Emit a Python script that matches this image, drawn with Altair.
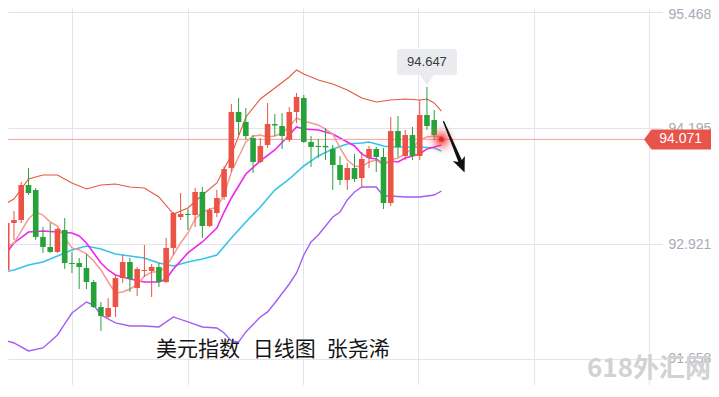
import altair as alt
import pandas as pd
import numpy as np

# ---------------- data ----------------
candle_open = [92.581, 92.636, 93.152, 93.185, 93.570, 93.515, 92.999, 92.889, 92.834, 93.075,
               92.713, 92.713, 92.658, 92.504, 92.229, 92.120, 92.229, 92.548, 92.724, 92.438,
               92.625, 92.625, 92.669, 92.504, 92.878, 93.218, 93.251, 93.240, 93.493, 93.119,
               93.262, 93.438, 93.757, 94.372, 94.262, 94.086, 93.823, 94.010, 94.240, 94.218,
               94.065, 94.372, 94.526, 94.043, 93.999, 93.999, 93.966, 93.790, 93.625, 93.757,
               93.647, 93.867, 93.966, 93.878, 93.372, 94.163, 93.889, 94.119, 93.889, 94.339,
               94.284, 94.060]
candle_high = [92.680, 93.185, 93.284, 93.603, 93.757, 93.537, 93.108, 93.152, 93.097, 93.207,
               92.834, 92.768, 92.812, 92.526, 92.284, 92.328, 92.592, 92.801, 92.768, 92.669,
               92.911, 92.702, 92.713, 92.988, 93.273, 93.482, 93.306, 93.537, 93.548, 93.317,
               93.515, 93.779, 94.460, 94.526, 94.416, 94.119, 94.086, 94.471, 94.350, 94.361,
               94.427, 94.581, 94.559, 94.108, 94.076, 94.196, 94.010, 93.889, 93.812, 93.911,
               93.933, 93.999, 93.988, 93.977, 94.317, 94.328, 94.174, 94.207, 94.504, 94.647,
               94.394, 94.076]
candle_low = [92.548, 92.614, 92.966, 93.152, 93.460, 92.966, 92.823, 92.823, 92.823, 92.647,
              92.603, 92.427, 92.427, 92.218, 91.966, 92.109, 92.120, 92.493, 92.394, 92.350,
              92.559, 92.339, 92.449, 92.493, 92.801, 93.185, 93.075, 93.108, 92.988, 93.108,
              93.218, 93.405, 93.713, 94.119, 94.065, 93.702, 93.812, 93.977, 94.108, 93.966,
              94.043, 94.251, 94.032, 93.768, 93.867, 93.845, 93.515, 93.570, 93.515, 93.603,
              93.537, 93.757, 93.713, 93.306, 93.339, 93.878, 93.845, 93.845, 93.845, 94.174,
              94.065, 94.054]
candle_close = [92.647, 93.152, 93.185, 93.570, 93.482, 92.999, 92.889, 92.834, 93.086, 92.713,
                92.702, 92.669, 92.504, 92.229, 92.131, 92.218, 92.548, 92.724, 92.537, 92.647,
                92.636, 92.669, 92.504, 92.878, 93.262, 93.251, 93.240, 93.493, 93.119, 93.295,
                93.427, 93.746, 94.372, 94.262, 94.108, 93.823, 93.999, 94.240, 94.224, 94.108,
                94.372, 94.537, 94.043, 93.988, 93.988, 93.983, 93.790, 93.625, 93.757, 93.636,
                93.856, 93.966, 93.878, 93.372, 94.163, 93.988, 94.119, 93.889, 94.339, 94.218,
                94.119, 94.071]

upper_i = [0, 2, 4, 6, 8, 10, 12, 14, 16, 18, 20, 22, 24, 26, 28, 30, 32, 34, 36, 38, 40, 41, 42,
           44, 46, 48, 50, 52, 54, 56, 58, 59, 60, 61]
upper_v = [93.328, 93.416, 93.636, 93.680, 93.680, 93.592, 93.526, 93.570, 93.581, 93.548, 93.537,
           93.438, 93.251, 93.317, 93.460, 93.592, 93.900, 94.317, 94.515, 94.636, 94.757, 94.834,
           94.790, 94.724, 94.680, 94.614, 94.526, 94.482, 94.504, 94.515, 94.504, 94.515, 94.471,
           94.383]

lower_i = [0, 2, 4, 6, 8, 9, 10, 12, 13, 14, 16, 18, 20, 22, 24, 26, 28, 30, 31, 32, 33, 34, 36,
           37, 38, 40, 41, 42, 43, 44, 46, 47, 48, 49, 50, 52, 53, 54, 56, 58, 60, 61]
lower_v = [91.878, 91.834, 91.746, 91.779, 91.922, 92.043, 92.163, 92.284, 92.251, 92.141, 92.054,
           92.021, 92.021, 92.010, 92.120, 92.065, 92.010, 91.999, 91.944, 91.856, 91.845, 91.955,
           92.120, 92.175, 92.273, 92.482, 92.603, 92.801, 92.944, 93.020, 93.218, 93.273, 93.405,
           93.493, 93.548, 93.548, 93.449, 93.449, 93.438, 93.438, 93.460, 93.504]

mid_i = [0, 2, 4, 6, 8, 10, 12, 14, 16, 18, 20, 22, 24, 26, 28, 30, 32, 34, 36, 38, 40, 42, 44,
         46, 48, 50, 51, 52, 53, 54, 56, 58, 60, 61]
mid_v = [92.603, 92.636, 92.691, 92.724, 92.790, 92.856, 92.900, 92.867, 92.812, 92.790, 92.768,
         92.713, 92.680, 92.724, 92.757, 92.801, 92.988, 93.163, 93.328, 93.515, 93.636, 93.779,
         93.889, 93.966, 94.021, 94.032, 94.043, 94.021, 93.999, 93.988, 93.988, 93.988, 93.977,
         93.944]

ma10_i = [0, 2, 4, 6, 8, 10, 11, 12, 13, 14, 15, 16, 18, 20, 22, 23, 24, 26, 28, 30, 31, 32, 33,
          34, 36, 38, 40, 41, 42, 44, 46, 48, 49, 50, 51, 52, 53, 54, 55, 56, 58, 59, 60, 61]
ma10_v = [92.724, 92.933, 93.053, 93.064, 93.053, 93.042, 93.010, 92.933, 92.823, 92.713, 92.636,
          92.581, 92.537, 92.504, 92.504, 92.537, 92.647, 92.823, 92.944, 93.097, 93.273, 93.427,
          93.559, 93.691, 93.834, 93.955, 94.119, 94.207, 94.185, 94.174, 94.130, 94.043, 93.999,
          93.911, 93.867, 93.856, 93.801, 93.834, 93.823, 93.867, 93.911, 93.966, 93.988, 94.010]

ma5_i = list(range(0, 29)) + list(range(30, 62))
ma5_v = [92.856, 92.889, 92.933, 93.064, 93.196, 93.273, 93.240, 93.163, 93.119, 92.988, 92.878,
         92.856, 92.812, 92.735, 92.636, 92.504, 92.383, 92.394, 92.427, 92.471, 92.570, 92.614,
         92.614, 92.669, 92.801, 92.933, 93.042, 93.196, 93.273,
         93.328, 93.460, 93.713, 93.878, 94.043, 94.108, 94.119, 94.097, 94.108, 94.141, 94.207,
         94.306, 94.273, 94.251, 94.229, 94.185, 94.130, 93.977, 93.845, 93.779, 93.768, 93.823,
         93.845, 93.790, 93.845, 93.867, 93.911, 93.977, 94.065, 94.097, 94.108, 94.097]

y_ticks = [95.468, 94.195, 92.921, 91.658]
last_price = 94.071
title_parts = ["美元指数", "日线图", "张尧浠"]
watermark = "618外汇网"

arrow_i = [61.3, 63.75]
arrow_p = [94.266, 93.80]
arrow_w = [1.4, 4.2]
arrow_tip_i = [64.19]
arrow_tip_p = [93.708]

# ---------------- layout / style ----------------
W, H = 654, 377
X_DOM = [1.173, 91.44]
Y_DOM = [91.372, 95.515]
GRID_X = [10.0, 25.95, 41.9, 57.8, 73.75, 89.7]
RED = "#eb5347"
GREEN = "#27a23b"
GRID = "#e4e4ea"

xs = alt.Scale(domain=X_DOM, nice=False, zero=False, padding=0)
ys = alt.Scale(domain=Y_DOM, nice=False, zero=False, padding=0)
X_AX = alt.Axis(values=GRID_X, labels=False, ticks=False, domain=False,
                grid=True, gridColor=GRID, gridWidth=1, title=None)
Y_AX = alt.Axis(orient="right", values=y_ticks, format=".3f",
                labelColor="#a8abb8", labelFontSize=14, labelFont="Liberation Sans",
                labelPadding=6, ticks=False, domain=False, grid=True,
                labelOffset={"condition": {"test": "datum.value > 95", "value": 2},
                             "value": 0},
                gridColor=GRID, gridWidth=1, title=None)


def X(field="i"):
    return alt.X(f"{field}:Q", scale=xs, axis=X_AX, title=None)


def Y(field):
    return alt.Y(f"{field}:Q", scale=ys, axis=Y_AX, title=None)


n = len(candle_open)
cdf = pd.DataFrame({"i": list(range(n)), "open": candle_open, "high": candle_high,
                    "low": candle_low, "close": candle_close})
cdf["col"] = np.where(cdf["close"] >= cdf["open"], RED, GREEN)


def line_layer(ii, vv, color, width):
    d = pd.DataFrame({"i": ii, "v": vv})
    return alt.Chart(d).mark_line(color=color, strokeWidth=width, clip=True).encode(
        x=X(), y=Y("v"))


upper = line_layer(upper_i, upper_v, "#e4583f", 1.1)
lower = line_layer(lower_i, lower_v, "#a45cf4", 1.4)
mid = line_layer(mid_i, mid_v, "#35c3ea", 1.6)
ma10 = line_layer(ma10_i, ma10_v, "#ee27ee", 1.6)
ma5 = line_layer(ma5_i, ma5_v, "#f59a8f", 1.5)

price_line = alt.Chart(pd.DataFrame({"p": [last_price]})).mark_rule(
    color="#f2a29b", strokeWidth=1).encode(
    y=Y("p"), x=alt.value(0), x2=alt.value(636))

wicks = alt.Chart(cdf).mark_rule(strokeWidth=1, clip=True).encode(
    x=X(), y=Y("low"), y2="high:Q", color=alt.Color("col:N", scale=None))
bodies = alt.Chart(cdf).mark_bar(width=5.6, clip=True).encode(
    x=X(), y=Y("open"), y2="close:Q", color=alt.Color("col:N", scale=None))

# high annotation
hi_idx = int(np.argmax(candle_high))
hdf = pd.DataFrame({"i": [hi_idx], "p": [candle_high[hi_idx]],
                    "t": [f"{candle_high[hi_idx]:.3f}"]})
box_path = ("M0,-2 L-7,-12 L-27,-12 Q-30,-12 -30,-15 L-30,-35 Q-30,-38 -27,-38 "
            "L27,-38 Q30,-38 30,-35 L30,-15 Q30,-12 27,-12 L7,-12 Z")
hi_box = alt.Chart(hdf).mark_point(shape=box_path, size=4, filled=True, fill="#e9ebef",
                                   strokeWidth=0, opacity=1).encode(x=X(), y=Y("p"))
hi_text = alt.Chart(hdf).mark_text(dy=-25, fontSize=13, font="Liberation Sans",
                                   color="#3a3a3a").encode(x=X(), y=Y("p"), text="t:N")

# glowing last point
ldf = pd.DataFrame({"i": [n - 1], "p": [last_price], "t": [f"{last_price:.3f}"]})
glow = alt.Chart(ldf).mark_point(
    filled=True, size=1000, opacity=1, strokeWidth=0,
    fill={"gradient": "radial", "stops": [
        {"offset": 0, "color": "rgba(238,30,30,0.95)"},
        {"offset": 0.3, "color": "rgba(240,50,50,0.55)"},
        {"offset": 0.7, "color": "rgba(245,90,90,0.15)"},
        {"offset": 1, "color": "rgba(245,100,100,0)"}]}).encode(x=X(), y=Y("p"))
dot = alt.Chart(ldf).mark_point(filled=True, size=24, opacity=1, color="#e42a22",
                                strokeWidth=0).encode(x=X(), y=Y("p"))

# price tag
tag_path = "M0,0 L7.5,-10 L75,-10 L75,10 L7.5,10 Z"
tag = alt.Chart(ldf).mark_point(shape=tag_path, size=4, filled=True, fill="#e8534a",
                                strokeWidth=0, opacity=1).encode(
    x=alt.value(636), y=Y("p"))
tag_text = alt.Chart(ldf).mark_text(fontSize=14, font="Liberation Sans", color="white",
                                    align="center", baseline="middle").encode(
    x=alt.value(672.7), y=Y("p"), text="t:N")

# arrow
adf = pd.DataFrame({"i": arrow_i, "p": arrow_p, "w": arrow_w})
arrow = alt.Chart(adf).mark_trail(color="#111111").encode(
    x=X(), y=Y("p"), size=alt.Size("w:Q", scale=None))
head_path = "M0,0 L-6.5,-15 L0,-11 L6.5,-15 Z"
arrow_head = alt.Chart(pd.DataFrame({"i": arrow_tip_i, "p": arrow_tip_p})).mark_point(
    shape=head_path, size=4, filled=True, fill="#111111", strokeWidth=0, opacity=1,
    angle=337.5).encode(x=X(), y=Y("p"))

# captions
cap_x = [148, 244.7, 318.7]
caps = alt.Chart(pd.DataFrame({"t": title_parts, "x": cap_x})).mark_text(
    fontSize=21, font="Noto Sans CJK SC", color="#151515", align="left",
    baseline="middle").encode(x=alt.X("x:Q", scale=None, axis=None), y=alt.value(342),
                              text="t:N")

wm = alt.Chart(pd.DataFrame({"t": [watermark]})).mark_text(
    fontSize=26, font="Noto Sans CJK SC", fontWeight="bold", color="#d2d2d2",
    align="center", baseline="middle").encode(x=alt.value(641), y=alt.value(361),
                                              text="t:N")

chart = alt.layer(
    wm, lower, upper, mid, ma10, ma5, price_line, wicks, bodies,
    glow, dot, hi_box, hi_text, arrow, arrow_head, tag, tag_text, caps
).properties(
    width=W, height=H,
    padding={"left": 0, "top": 0, "right": 49, "bottom": 0},
    autosize=alt.AutoSizeParams(type="none"),
    background="white",
).configure_view(stroke=None)

chart.save("out.html", embed_options={"renderer": "svg", "actions": False})
